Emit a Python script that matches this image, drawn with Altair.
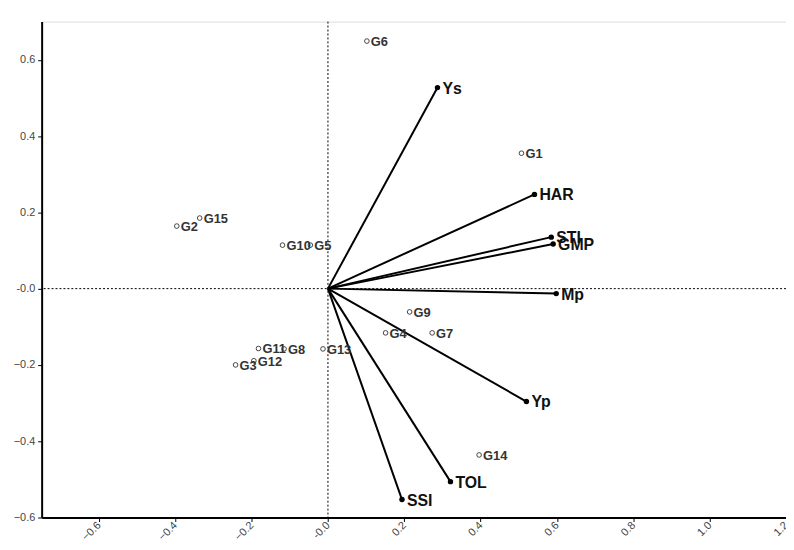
import altair as alt
import pandas as pd

gen_names = ["G1", "G2", "G3", "G4", "G5", "G6", "G7", "G8", "G9", "G10",
             "G11", "G12", "G13", "G14", "G15"]
gen_x = [0.507, -0.396, -0.242, 0.151, -0.046, 0.102, 0.273, -0.115, 0.214, -0.119,
         -0.182, -0.194, -0.013, 0.396, -0.336]
gen_y = [0.355, 0.164, -0.200, -0.116, 0.114, 0.649, -0.116, -0.158, -0.061, 0.114,
         -0.157, -0.189, -0.158, -0.436, 0.185]

trait_names = ["Ys", "HAR", "STI", "GMP", "Mp", "Yp", "TOL", "SSI"]
trait_x = [0.287, 0.541, 0.585, 0.590, 0.598, 0.520, 0.321, 0.194]
trait_y = [0.527, 0.247, 0.135, 0.117, -0.013, -0.296, -0.506, -0.553]

x_ticks = [-0.6, -0.4, -0.2, 0.0, 0.2, 0.4, 0.6, 0.8, 1.0, 1.2]
y_ticks = [-0.6, -0.4, -0.2, 0.0, 0.2, 0.4, 0.6]

gen = pd.DataFrame({"name": gen_names, "x": gen_x, "y": gen_y})
tr = pd.DataFrame({"name": trait_names, "x": trait_x, "y": trait_y})

label_expr = "abs(datum.value) < 1e-9 ? '-0.0' : format(datum.value, '.1f')"

xs = alt.Scale(domain=[-0.75, 1.2], nice=False, zero=False)
ys = alt.Scale(domain=[-0.6, 0.7], nice=False, zero=False)

xax = alt.Axis(values=x_ticks, labelExpr=label_expr, labelAngle=-45, labelAlign="right",
               labelBaseline="middle", grid=False, title=None, domainColor="black",
               domainWidth=2, tickColor="black", tickSize=4, labelColor="#444",
               labelFontSize=11, labelFont="Liberation Sans", labelPadding=2)
yax = alt.Axis(values=y_ticks, labelExpr=label_expr, grid=False, title=None,
               domainColor="black", domainWidth=2, tickColor="black", tickSize=4,
               labelColor="#444", labelFontSize=11, labelFont="Liberation Sans",
               labelPadding=3)

base_g = alt.Chart(gen)
base_t = alt.Chart(tr)

zero_h = alt.Chart(pd.DataFrame({"v": [0]})).mark_rule(
    color="black", strokeDash=[2, 2], strokeWidth=1
).encode(y=alt.Y("v:Q", scale=ys, axis=yax))
zero_v = alt.Chart(pd.DataFrame({"v": [0]})).mark_rule(
    color="black", strokeDash=[2, 2], strokeWidth=1
).encode(x=alt.X("v:Q", scale=xs, axis=xax))

vectors = base_t.mark_rule(color="black", strokeWidth=2).encode(
    x=alt.X("x:Q", scale=xs, axis=xax), y=alt.Y("y:Q", scale=ys, axis=yax),
    x2=alt.datum(0), y2=alt.datum(0))
tips = base_t.mark_circle(color="black", size=30, opacity=1).encode(
    x=alt.X("x:Q", scale=xs), y=alt.Y("y:Q", scale=ys))
tip_text = base_t.mark_text(align="left", baseline="middle", dx=5, dy=1, fontSize=16,
                            fontWeight="bold", font="Liberation Sans", color="#111").encode(
    x=alt.X("x:Q", scale=xs), y=alt.Y("y:Q", scale=ys), text="name:N")

pts = base_g.mark_point(shape="circle", size=22, filled=False, color="#444",
                        strokeWidth=1, opacity=1).encode(
    x=alt.X("x:Q", scale=xs), y=alt.Y("y:Q", scale=ys))
pt_text = base_g.mark_text(align="left", baseline="middle", dx=4, dy=1, fontSize=13,
                           fontWeight="bold", font="Liberation Sans", color="#333").encode(
    x=alt.X("x:Q", scale=xs), y=alt.Y("y:Q", scale=ys), text="name:N")

chart = alt.layer(zero_h, zero_v, vectors, tips, tip_text, pts, pt_text).properties(
    width=752, height=501,
    padding={"left": 34, "top": 11, "right": 0, "bottom": 22},
    autosize=alt.AutoSizeParams(type="none"),
).configure_view(stroke="black", strokeWidth=2).configure(background="white")

chart.save("out.html", embed_options={"renderer": "svg", "actions": False})
